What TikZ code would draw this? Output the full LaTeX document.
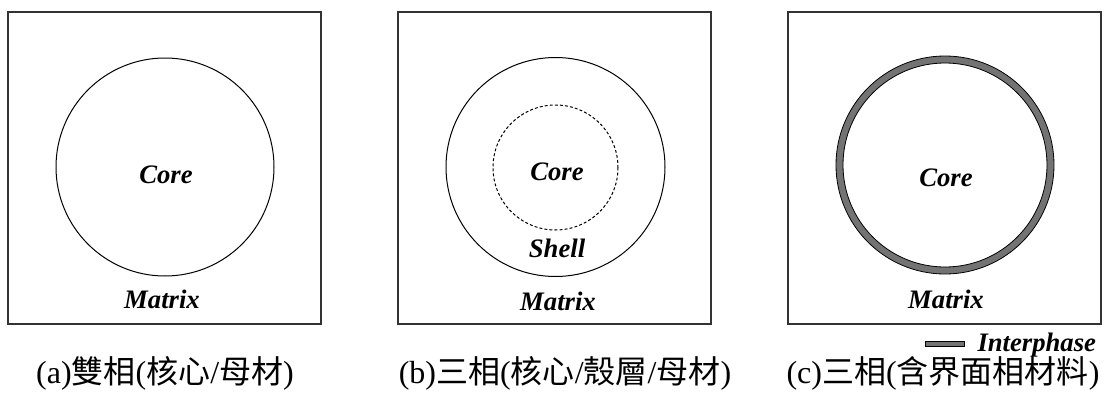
\documentclass[tikz,border=0pt]{standalone}
\usepackage{fontspec}
\setmainfont{Liberation Serif}
\newfontfamily\cjkfont{Noto Sans CJK TC}
\newcommand{\zh}[1]{{\cjkfont #1}}
\usetikzlibrary{positioning}

\begin{document}
\begin{tikzpicture}[
    x=0.75pt, y=-0.75pt, line width=0.75pt,
    every node/.style={inner sep=0pt},
    label_text/.style={font=\fontsize{20}{24}\selectfont\bfseries\itshape, anchor=base},
    caption_text/.style={font=\fontsize{24}{28}\selectfont, anchor=base},
    cell_box/.style={draw=black!80, line width=0.9pt},
    interphase_fill/.style={fill=black!55, draw=black, line width=0.6pt}
]
\useasboundingbox (0,0) rectangle (1111,414);

% (a) core + matrix
\draw[cell_box] (8,12) rectangle (321,324);
\draw (165,167) circle [radius=109];
\node (core_a) [label_text] at (166,183) {Core};
\node (matrix_a) [label_text] at (162,308) {Matrix};
\node (caption_a) [caption_text] at (165,383) {(a)\zh{雙相}(\zh{核心}/\zh{母材})};

% (b) core + shell + matrix
\draw[cell_box] (398,12) rectangle (711,324);
\draw (555.5,167) circle [radius=109.5];
\draw[dash pattern=on 2.2pt off 1.6pt] (555.5,167.5) circle [radius=62.5];
\node (core_b) [label_text] at (557,180) {Core};
\node (shell_b) [label_text] at (557,257) {Shell};
\node (matrix_b) [label_text] at (558,310) {Matrix};
\node (caption_b) [caption_text] at (565,383) {(b)\zh{三相}(\zh{核心}/\zh{殼層}/\zh{母材})};

% (c) with interphase ring
\draw[cell_box] (788,12) rectangle (1101,324);
\fill[black!55, even odd rule] (945,165) circle [radius=109] (945,165) circle [radius=102];
\draw[line width=0.6pt] (945,165) circle [radius=109];
\draw[line width=0.6pt] (945,165) circle [radius=102];
\node (core_c) [label_text] at (946,186) {Core};
\node (matrix_c) [label_text] at (946,308) {Matrix};

% legend
\draw[interphase_fill] (925,341) rectangle (964,346);
\node (interphase_label) [label_text, anchor=base west] at (977,351) {Interphase};
\node (caption_c) [caption_text] at (943,383) {(c)\zh{三相}(\zh{含界面相材料})};
\end{tikzpicture}
\end{document}
